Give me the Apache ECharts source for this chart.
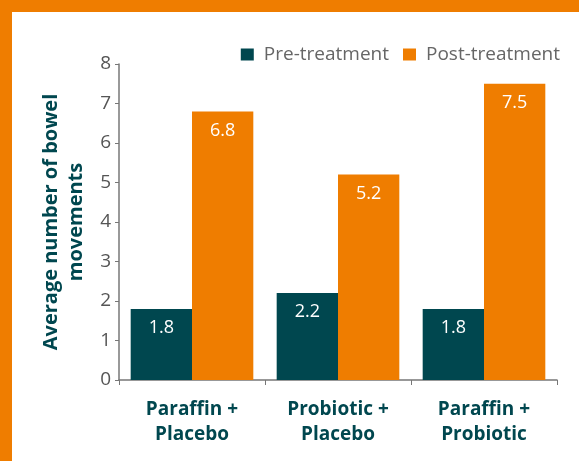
<!DOCTYPE html>
<html>
<head>
<meta charset="utf-8">
<script src="https://cdn.jsdelivr.net/npm/echarts@6/dist/echarts.min.js"></script>
<style>
  html, body { margin: 0; padding: 0; background: #fff; }
  #chart {
    width: 567px;
    height: 449px;
    border-top: 12px solid #EF7D00;
    border-left: 12px solid #EF7D00;
  }
</style>
</head>
<body>
<div id="chart"></div>
<script>
const categories = ["Paraffin +\nPlacebo", "Probiotic +\nPlacebo", "Paraffin +\nProbiotic"]
const preTreatment = [1.8, 2.2, 1.8]
const postTreatment = [6.8, 5.2, 7.5]
const yTicks = { min: 0, max: 8, interval: 1 }

const teal = "#00474F"
const orange = "#EF7D00"
const font = "Open Sans"

const chart = echarts.init(document.getElementById("chart"))

const barLabel = {
  show: true,
  position: "insideTop",
  distance: 10,
  color: "#fff",
  fontSize: 18,
  fontFamily: font,
}

chart.setOption({
  animation: false,
  textStyle: { fontFamily: font },
  legend: {
    top: 28,
    right: 14,
    itemWidth: 13,
    itemHeight: 12,
    itemGap: 14,
    icon: "rect",
    textStyle: {
      color: "#666",
      fontSize: 19,
      fontFamily: font,
      padding: [0, 0, 0, 5],
    },
  },
  grid: {
    left: 107,
    top: 52,
    right: 22,
    bottom: 81,
  },
  xAxis: {
    type: "category",
    data: categories,
    axisLine: { lineStyle: { color: "#777", width: 1.5 } },
    axisTick: { show: true, length: 5, lineStyle: { color: "#777" } },
    axisLabel: {
      color: teal,
      fontWeight: "bold",
      fontSize: 19,
      lineHeight: 25,
      margin: 17,
      fontFamily: font,
    },
  },
  yAxis: {
    type: "value",
    min: yTicks.min,
    max: yTicks.max,
    interval: yTicks.interval,
    name: "Average number of bowel\nmovements",
    nameLocation: "middle",
    nameGap: 26,
    nameTextStyle: {
      color: teal,
      fontWeight: "bold",
      fontSize: 20,
      lineHeight: 25,
      fontFamily: font,
    },
    axisLine: { show: true, lineStyle: { color: "#777", width: 1.5 } },
    axisTick: { show: true, length: 4, lineStyle: { color: "#777" } },
    axisLabel: { color: "#555", fontSize: 19, margin: 8, fontFamily: font },
    splitLine: { show: false },
  },
  series: [
    {
      name: "Pre-treatment",
      type: "bar",
      data: preTreatment,
      itemStyle: { color: teal },
      barGap: "0%",
      barCategoryGap: "16%",
      label: barLabel,
    },
    {
      name: "Post-treatment",
      type: "bar",
      data: postTreatment,
      itemStyle: { color: orange },
      label: barLabel,
    },
  ],
})
</script>
</body>
</html>
